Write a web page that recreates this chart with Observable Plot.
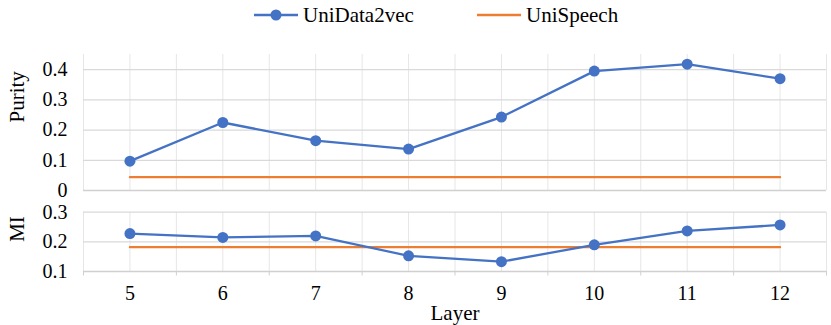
<!DOCTYPE html>
<html>
<head>
<meta charset="utf-8">
<script src="https://cdn.jsdelivr.net/npm/d3@7"></script>
<script src="https://cdn.jsdelivr.net/npm/@observablehq/plot@0.6"></script>
<style>
  html, body { margin: 0; padding: 0; background: #fff; }
  #root { position: relative; width: 831px; height: 325px; font-family: "Liberation Serif", "Times New Roman", serif; color: #000; }
  .legend { position: absolute; top: 0; left: 0; width: 831px; height: 30px; font-size: 21px; }
  .legend .item { position: absolute; top: 2px; display: flex; align-items: center; height: 26px; }
  .legend svg { display: block; }
  .legend span { margin-left: 5px; line-height: 26px; }
  svg text { font-family: "Liberation Serif", "Times New Roman", serif; }
</style>
</head>
<body>
<div id="root"></div>
<script>
const layers = [5, 6, 7, 8, 9, 10, 11, 12];
const seriesNames = ["UniData2vec", "UniSpeech"];
const purityUniData2vec = [0.097, 0.225, 0.165, 0.137, 0.243, 0.395, 0.418, 0.370];
const purityUniSpeech   = [0.044, 0.044, 0.044, 0.044, 0.044, 0.044, 0.044, 0.044];
const miUniData2vec = [0.228, 0.215, 0.220, 0.153, 0.133, 0.190, 0.237, 0.257];
const miUniSpeech   = [0.182, 0.182, 0.182, 0.182, 0.182, 0.182, 0.182, 0.182];
const purityTicks = [0, 0.1, 0.2, 0.3, 0.4];
const miTicks = [0.1, 0.2, 0.3];

const blue = "#4472C4", orange = "#ED7D31";
const serif = '"Liberation Serif", "Times New Roman", serif';
const root = document.getElementById("root");

// Legend
const legend = document.createElement("div");
legend.className = "legend";
function legendItem(left, color, dot, label) {
  const item = document.createElement("div");
  item.className = "item";
  item.style.left = left + "px";
  const w = 44;
  item.innerHTML = `<svg width="${w}" height="14"><line x1="0" x2="${w}" y1="7" y2="7" stroke="${color}" stroke-width="2.3"/>` +
    (dot ? `<circle cx="${w/2}" cy="7" r="5.5" fill="${color}"/>` : "") + `</svg><span>${label}</span>`;
  legend.appendChild(item);
}
legendItem(254, blue, true, seriesNames[0]);
legendItem(477, orange, false, seriesNames[1]);
root.appendChild(legend);

const fmt = d => d3.format("~g")(d);
const halfSteps = d3.range(4.5, 12.51, 0.5);
const edges = d3.range(4.5, 12.51, 1);

const rowsP = layers.map((l, i) => ({layer: l, a: purityUniData2vec[i], b: purityUniSpeech[i]}));
const rowsM = layers.map((l, i) => ({layer: l, a: miUniData2vec[i], b: miUniSpeech[i]}));

const common = {
  width: 831,
  marginLeft: 83,
  marginRight: 5,
  style: {fontFamily: serif, fontSize: "20px", color: "#000", background: "transparent", overflow: "visible"}
};
const txt = {fontFamily: serif, fill: "#000"};

const p1 = Plot.plot({
  ...common,
  height: 200,
  marginTop: 54,
  marginBottom: 10,
  x: {type: "linear", domain: [4.5, 12.5], axis: null},
  y: {domain: [0, 0.45], axis: null},
  marks: [
    Plot.ruleX(halfSteps, {y1: 0, y2: 0.45, stroke: "#e6e6e6", strokeWidth: 1}),
    Plot.ruleY(purityTicks.filter(d => d > 0), {stroke: "#d9d9d9", strokeWidth: 1.2}),
    Plot.ruleY([0], {stroke: "#d0d0d0", strokeWidth: 1.5}),
    Plot.text(purityTicks, {x: 4.5, y: d => d, text: fmt, textAnchor: "end", dx: -16, fontSize: 20, ...txt}),
    Plot.text(["Purity"], {frameAnchor: "left", dx: -66, rotate: -90, fontSize: 21, ...txt}),
    Plot.line(rowsP, {x: "layer", y: "b", stroke: orange, strokeWidth: 2.3}),
    Plot.line(rowsP, {x: "layer", y: "a", stroke: blue, strokeWidth: 2.3}),
    Plot.dot(rowsP, {x: "layer", y: "a", fill: blue, r: 5.5})
  ]
});
p1.style.position = "absolute";
p1.style.left = "0px";
p1.style.top = "0px";
root.appendChild(p1);

const p2 = Plot.plot({
  ...common,
  height: 130,
  marginTop: 16.7,
  marginBottom: 54,
  x: {type: "linear", domain: [4.5, 12.5], axis: null},
  y: {domain: [0.1, 0.3], axis: null},
  marks: [
    Plot.ruleX(halfSteps, {y1: 0.1, y2: 0.3, stroke: "#e6e6e6", strokeWidth: 1}),
    Plot.ruleY(miTicks.filter(d => d > 0.1), {stroke: "#d9d9d9", strokeWidth: 1.2}),
    Plot.ruleY([0.1], {stroke: "#d0d0d0", strokeWidth: 1.5}),
    Plot.text(miTicks, {x: 4.5, y: d => d, text: fmt, textAnchor: "end", dx: -16, fontSize: 20, ...txt}),
    Plot.axisX(edges, {tickSize: 4.5, tickFormat: () => "", stroke: "#d0d0d0", label: null}),
    Plot.text(layers, {x: d => d, y: 0.1, dy: 22, text: fmt, fontSize: 20, ...txt}),
    Plot.text(["MI"], {frameAnchor: "left", dx: -66, rotate: -90, fontSize: 21, ...txt}),
    Plot.text(["Layer"], {frameAnchor: "bottom", dy: 48, fontSize: 21, ...txt}),
    Plot.line(rowsM, {x: "layer", y: "b", stroke: orange, strokeWidth: 2.3}),
    Plot.line(rowsM, {x: "layer", y: "a", stroke: blue, strokeWidth: 2.3}),
    Plot.dot(rowsM, {x: "layer", y: "a", fill: blue, r: 5.5})
  ]
});
p2.style.position = "absolute";
p2.style.left = "0px";
p2.style.top = "195px";
root.appendChild(p2);
</script>
</body>
</html>
